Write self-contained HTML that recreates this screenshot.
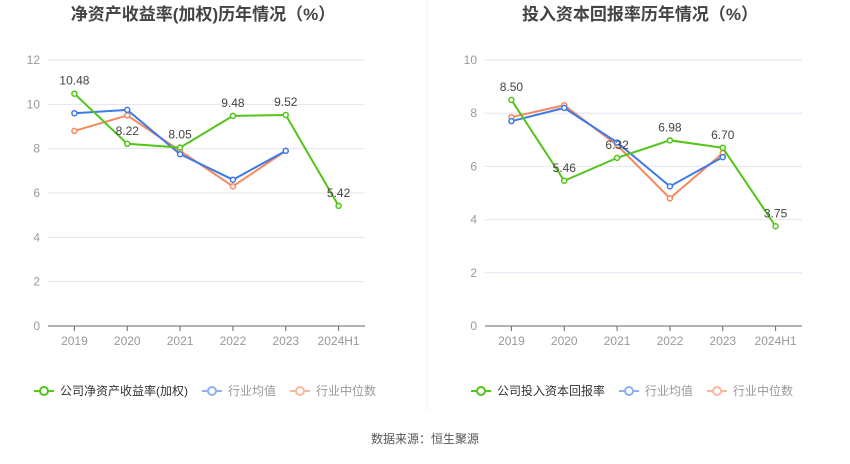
<!DOCTYPE html>
<html><head><meta charset="utf-8">
<style>
body{margin:0;background:#fff;width:850px;height:459px;overflow:hidden;font-family:"Liberation Sans","Noto Sans CJK SC",sans-serif;}
svg text{font-family:"Liberation Sans","Noto Sans CJK SC",sans-serif;}
</style></head>
<body>
<svg id="c" width="850" height="459" viewBox="0 0 850 459" xmlns="http://www.w3.org/2000/svg">
<line x1="427" y1="0" x2="427" y2="410" stroke="#eee"/>
<text x="425" y="443" font-size="12" fill="#555" text-anchor="middle">数据来源：恒生聚源</text>
</svg>
<script>
const categories=["2019","2020","2021","2022","2023","2024H1"];
const roeCompany=[10.48,8.22,8.05,9.48,9.52,5.42];
const roeAvg=[9.6,9.75,7.75,6.6,7.9,null];
const roeMedian=[8.8,9.5,7.9,6.3,7.9,null];
const roeTicks=[0,2,4,6,8,10,12];
const roicCompany=[8.50,5.46,6.32,6.98,6.70,3.75];
const roicAvg=[7.7,8.2,6.9,5.25,6.35,null];
const roicMedian=[7.85,8.3,6.8,4.8,6.5,null];
const roicTicks=[0,2,4,6,8,10];

const svg=document.getElementById('c');
const NS='http://www.w3.org/2000/svg';
function mk(tag,attrs,parent){const e=document.createElementNS(NS,tag);for(const k in attrs)e.setAttribute(k,attrs[k]);(parent||svg).appendChild(e);return e;}
const GREEN='#52c41a',BLUE='#3d7ae8',ORANGE='#f5885c';

function drawChart(prefix,ox,title,ticks,company,avg,median,legendName){
  const left=ox+48,right=ox+365,top=60,bottom=326;
  const maxV=ticks[ticks.length-1];
  const y=v=>bottom-(v/maxV)*(bottom-top);
  const step=(right-left)/categories.length;
  const x=i=>left+step*(i+0.5);
  const g=mk('g',{});
  
  
  const t=mk('text',{x:ox+203,y:20,'font-size':17,'font-weight':'bold',fill:'#444','text-anchor':'middle'},g);
  t.textContent=title;
  
  
  ticks.forEach(v=>{
    if(v>0){const l=mk('line',{x1:left,x2:right,y1:y(v),y2:y(v),stroke:'#e3e6f2'},g);
    
    }
    const tx=mk('text',{x:left-8,y:y(v)+4,'font-size':12,fill:'#999','text-anchor':'end'},g);
    tx.textContent=v;
    
    
  });
  const ax=mk('line',{x1:left,x2:right,y1:bottom,y2:bottom,stroke:'#666'},g);
  
  
  categories.forEach((c,i)=>{
    mk('line',{x1:x(i),x2:x(i),y1:bottom,y2:bottom+5,stroke:'#666'},g);
    const tx=mk('text',{x:x(i),y:bottom+19,'font-size':12,fill:'#999','text-anchor':'middle'},g);
    tx.textContent=c;
    
    
  });
  function series(vals,color,name,labels){
    let d='';vals.forEach((v,i)=>{if(v==null)return;d+=(d?'L':'M')+x(i)+' '+y(v);});
    const p=mk('path',{d:d,fill:'none',stroke:color,'stroke-width':2},g);
    
    
    vals.forEach((v,i)=>{if(v==null)return;
      const c=mk('circle',{cx:x(i),cy:y(v),r:2.5,fill:'#fff',stroke:color,'stroke-width':1.5},g);
      
      
      if(labels){const l=mk('text',{x:x(i),y:y(v)-9,'font-size':12,fill:'#444','text-anchor':'middle'},g);
        l.textContent=v.toFixed(2);
        
        }
    });
  }
  series(median,ORANGE,prefix+'-median',false);
  series(avg,BLUE,prefix+'-average',false);
  series(company,GREEN,prefix+'-company',true);
  const leg=[[legendName,GREEN,'#333'],['行业均值','#8fb0f0','#999'],['行业中位数','#f8b89c','#999']];
  let lx=ox+34;
  leg.forEach((e,k)=>{
    const lg=mk('g',{},g);
    
    
    mk('line',{x1:lx,x2:lx+20,y1:391,y2:391,stroke:e[1],'stroke-width':2},lg);
    mk('circle',{cx:lx+10,cy:391,r:4,fill:'#fff',stroke:e[1],'stroke-width':2},lg);
    const tx=mk('text',{x:lx+26,y:395,'font-size':12,fill:e[2]},lg);
    tx.textContent=e[0];
    lx+=26+tx.getComputedTextLength()+14;
  });
}
drawChart('roe',0,'净资产收益率(加权)历年情况（%）',roeTicks,roeCompany,roeAvg,roeMedian,'公司净资产收益率(加权)');
drawChart('roic',437,'投入资本回报率历年情况（%）',roicTicks,roicCompany,roicAvg,roicMedian,'公司投入资本回报率');
</script>
</body></html>
